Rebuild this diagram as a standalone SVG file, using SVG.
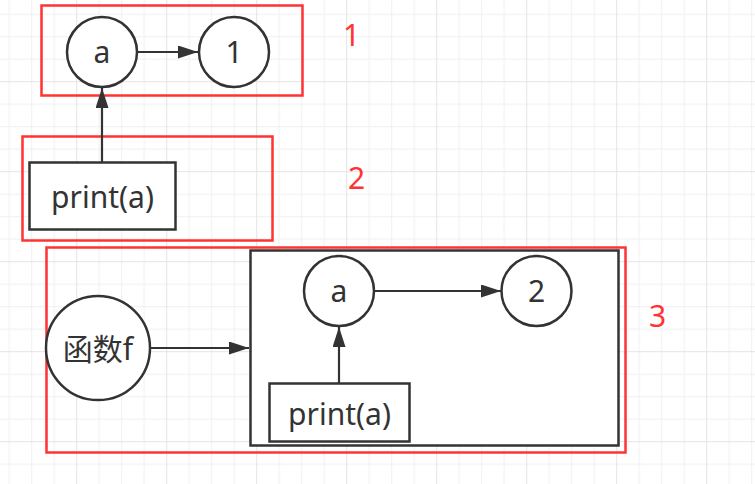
<svg xmlns="http://www.w3.org/2000/svg" width="755" height="484" viewBox="0 0 755 484">
<style>
.frame{fill:none;stroke:#ff3333;stroke-width:2.5}
.node{fill:#ffffff;stroke:#333333;stroke-width:2.5}
.box{fill:#ffffff;stroke:#333333;stroke-width:2.5}
.lbl{font-family:"Noto Sans","Open Sans","Noto Sans CJK SC",sans-serif;font-size:30px;fill:#333333;text-anchor:middle}
.num{font-family:"Noto Sans","Open Sans",sans-serif;font-size:30px;fill:#ff3333}
.edge{fill:none;stroke:#333333;stroke-width:2.2}
</style>
<defs>
<pattern id="grid" patternUnits="userSpaceOnUse" x="-13.8" y="-8.8" width="90" height="90">
<rect x="22.5" y="0" width="1" height="90" fill="#f0f0f0"/>
<rect x="45" y="0" width="1" height="90" fill="#f0f0f0"/>
<rect x="67.5" y="0" width="1" height="90" fill="#f0f0f0"/>
<rect x="0" y="22.5" width="90" height="1" fill="#f0f0f0"/>
<rect x="0" y="45" width="90" height="1" fill="#f0f0f0"/>
<rect x="0" y="67.5" width="90" height="1" fill="#f0f0f0"/>
<rect x="0" y="0" width="1" height="90" fill="#e4e4e4"/>
<rect x="0" y="0" width="90" height="1" fill="#e4e4e4"/>
</pattern>
<marker id="arrow" markerUnits="userSpaceOnUse" markerWidth="21" markerHeight="14" refX="20" refY="6.5" orient="auto">
<path d="M0,0 L20,6.5 L0,13 Z" fill="#333333"/>
</marker>
</defs>
<rect x="0" y="0" width="755" height="484" fill="#ffffff"/>
<rect x="0" y="0" width="755" height="484" fill="url(#grid)"/>

<g id="frame1"><rect class="frame" x="41.5" y="5.5" width="261" height="90"/></g>
<g id="frame2"><rect class="frame" x="22.5" y="136.5" width="250" height="104"/></g>
<g id="frame3"><rect class="frame" x="46.5" y="247.5" width="579" height="205"/></g>

<g id="label1"><text class="num" x="343" y="45.5">1</text></g>
<g id="label2"><text class="num" x="348" y="189">2</text></g>
<g id="label3"><text class="num" x="649" y="326.5">3</text></g>

<g id="scope"><rect class="box" x="250.5" y="250.5" width="368" height="195"/></g>

<g id="connectors">
<line class="edge" x1="137" y1="52" x2="198" y2="52" marker-end="url(#arrow)"/>
<line class="edge" x1="102" y1="162" x2="102" y2="88" marker-end="url(#arrow)"/>
<line class="edge" x1="150" y1="348" x2="249" y2="348" marker-end="url(#arrow)"/>
<line class="edge" x1="374" y1="291" x2="501" y2="291" marker-end="url(#arrow)"/>
<line class="edge" x1="339" y1="383" x2="339" y2="327" marker-end="url(#arrow)"/>
</g>

<g id="var-a1"><circle class="node" cx="102" cy="52" r="35"/><text class="lbl" x="102" y="63">a</text></g>
<g id="val-1"><circle class="node" cx="234" cy="52" r="35"/><text class="lbl" x="234" y="62.5">1</text></g>
<g id="print1"><rect class="box" x="29.5" y="162.5" width="146" height="67"/><text class="lbl" x="102.5" y="208">print(a)</text></g>
<g id="func-f"><circle class="node" cx="98" cy="348" r="52"/><text class="lbl" x="98" y="360">函数f</text></g>
<g id="var-a2"><circle class="node" cx="339" cy="291" r="35"/><text class="lbl" x="339" y="302">a</text></g>
<g id="val-2"><circle class="node" cx="536.5" cy="291" r="35"/><text class="lbl" x="536.5" y="301.5">2</text></g>
<g id="print2"><rect class="box" x="269.5" y="383.5" width="140" height="58"/><text class="lbl" x="339.5" y="425">print(a)</text></g>
</svg>
